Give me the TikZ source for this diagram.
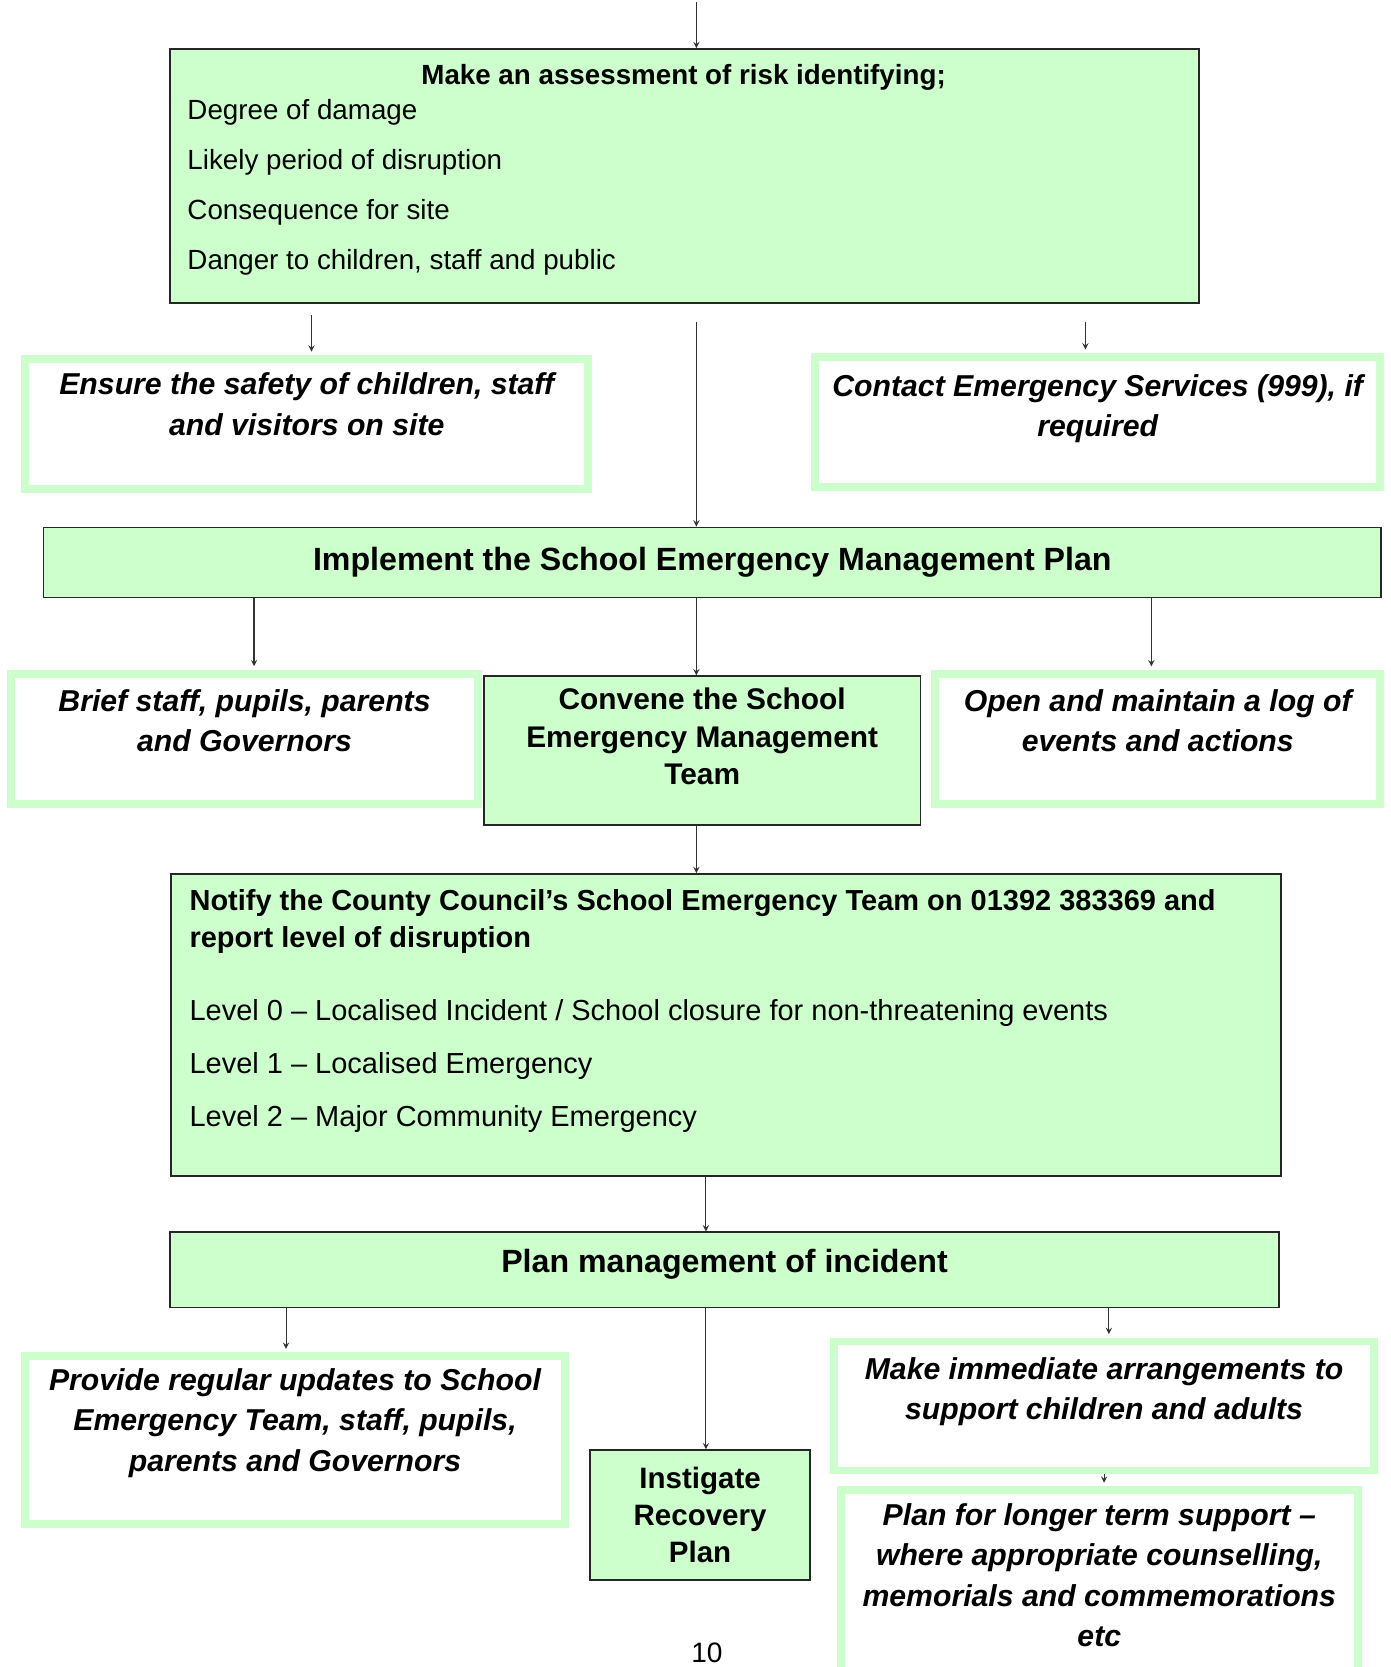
\documentclass[tikz,border=0pt]{standalone}
\usepackage{fontspec}
\setmainfont{Liberation Sans}
\usepackage{xcolor}
\usetikzlibrary{arrows}
\definecolor{boxgreen}{HTML}{CCFFCC}
\tikzset{
  greenbox/.style={
    rectangle, draw=black!85, fill=boxgreen, line width=0.9pt,
    inner sep=0pt, align=center,
    font=\fontsize{17}{21.2}\selectfont\bfseries
  },
  notebox/.style={
    rectangle, draw=boxgreen, fill=white, line width=4.5pt,
    inner sep=0pt, align=center,
    font=\fontsize{17.2}{23}\selectfont\bfseries\itshape
  },
  link/.style={->, >=stealth, line width=0.6pt, color=black!80},
  tonote/.style={link, shorten >=2pt},
}

\begin{document}
\begin{tikzpicture}[x=0.02127cm, y=-0.02127cm]
  \useasboundingbox (0,0) rectangle (1308,1568);

  % Column lines
  \coordinate (start)    at (655,2);
  \coordinate (spine)    at (655,0);
  \coordinate (spinelow) at (664,0);

  % Risk assessment
  \node[greenbox, minimum width=20.59cm, minimum height=5.08cm]
        (assess) at (644,165.5) {};
  \node[font=\fontsize{15.8}{19}\selectfont\bfseries]
        (assesshead) at (643,72.5) {Make an assessment of risk identifying;};
  \node[align=left, anchor=west, inner sep=0pt,
        font=\fontsize{15.8}{28.4}\selectfont]
        (assesslist) at (176,176.5)
        {Degree of damage\\Likely period of disruption\\Consequence for site\\Danger to children, staff and public};

  % First actions
  \node[notebox, minimum width=11.26cm, minimum height=2.606cm]
        (ensure) at (288.5,399)
        {Ensure the safety of children, staff\\and visitors on site\\\mbox{}};
  \node[notebox, minimum width=11.31cm, minimum height=2.606cm]
        (contact) at (1032.5,397)
        {Contact Emergency Services (999), if\\required\\[-4pt]\mbox{}};

  % Emergency plan
  \node[greenbox, minimum width=26.76cm, minimum height=1.404cm,
        font=\fontsize{18.3}{22}\selectfont\bfseries]
        (implement) at (670,529)
        {Implement the School Emergency Management Plan};

  \node[notebox, minimum width=9.33cm, minimum height=2.606cm]
        (brief) at (230,695)
        {Brief staff, pupils, parents\\and Governors\\[-2pt]\mbox{}};
  \node[greenbox, minimum width=8.74cm, minimum height=2.98cm]
        (convene) at (660.5,706)
        {Convene the School\\Emergency Management\\Team\\[-5pt]\mbox{}};
  \node[notebox, minimum width=8.90cm, minimum height=2.606cm]
        (open) at (1089,695)
        {Open and maintain a log of\\events and actions\\[-2pt]\mbox{}};

  % Notification
  \node[greenbox, minimum width=22.21cm, minimum height=6.04cm]
        (notify) at (683,964) {};
  \node[align=left, anchor=west, inner sep=0pt,
        font=\fontsize{16.5}{21.2}\selectfont]
        (notifytext) at (178,951)
        {\textbf{Notify the County Council's School Emergency Team on 01392 383369 and}\\
         \textbf{report level of disruption}\\[20pt]
         Level 0 -- Localised Incident / School closure for non-threatening events\\[9pt]
         Level 1 -- Localised Emergency\\[9pt]
         Level 2 -- Major Community Emergency};

  % Incident management
  \node[greenbox, minimum width=22.18cm, minimum height=1.51cm,
        font=\fontsize{18.3}{22}\selectfont\bfseries]
        (plan) at (681.5,1194.5) {Plan management of incident\\[-12pt]\mbox{}};

  \node[notebox, minimum width=10.79cm, minimum height=3.35cm]
        (provide) at (277.5,1354.5)
        {Provide regular updates to School\\Emergency Team, staff, pupils,\\parents and Governors\\\mbox{}};
  \node[greenbox, minimum width=4.40cm, minimum height=2.595cm,
        font=\fontsize{16.8}{21.2}\selectfont\bfseries]
        (instigate) at (658.5,1425)
        {Instigate\\Recovery\\Plan};
  \node[notebox, minimum width=10.79cm, minimum height=2.58cm]
        (immediate) at (1038.5,1322.5)
        {Make immediate arrangements to\\support children and adults\\[-3pt]\mbox{}};
  \node[notebox, minimum width=10.35cm, minimum height=4.14cm]
        (longer) at (1034,1499)
        {Plan for longer term support --\\where appropriate counselling,\\memorials and commemorations\\etc\\[-2pt]\mbox{}};

  % Page number
  \node[font=\fontsize{16}{19}\selectfont] (pagenum) at (665,1555) {10};

  % Connectors
  \draw[link] (start) -- (assess.north -| start);
  \draw[tonote, shorten <=0.234cm] ([xshift=0.096cm]assess.south -| ensure.north) -- ([xshift=0.096cm]ensure.north);
  \draw[link, shorten <=0.36cm] (assess.south -| spine) -- (implement.north -| spine);
  \draw[tonote, shorten <=0.36cm] ([xshift=-0.245cm]assess.south -| contact.north) -- ([xshift=-0.245cm]contact.north);

  \draw[tonote] ([xshift=0.19cm]implement.south -| brief.north) -- ([xshift=0.19cm]brief.north);
  \draw[link]   (implement.south -| spine) -- (convene.north -| spine);
  \draw[tonote] ([xshift=-0.128cm]implement.south -| open.north) -- ([xshift=-0.128cm]open.north);

  \draw[link] (convene.south -| spine) -- (notify.north -| spine);
  \draw[link] (notify.south -| spinelow) -- (plan.north -| spinelow);

  \draw[tonote] ([xshift=-0.18cm]plan.south -| provide.north) -- ([xshift=-0.18cm]provide.north);
  \draw[link]   (plan.south -| spinelow) -- (instigate.north -| spinelow);
  \draw[tonote] ([xshift=0.096cm]plan.south -| immediate.north) -- ([xshift=0.096cm]immediate.north);
  \draw[tonote] (immediate.south) -- (immediate.south |- longer.north);

\end{tikzpicture}
\end{document}
